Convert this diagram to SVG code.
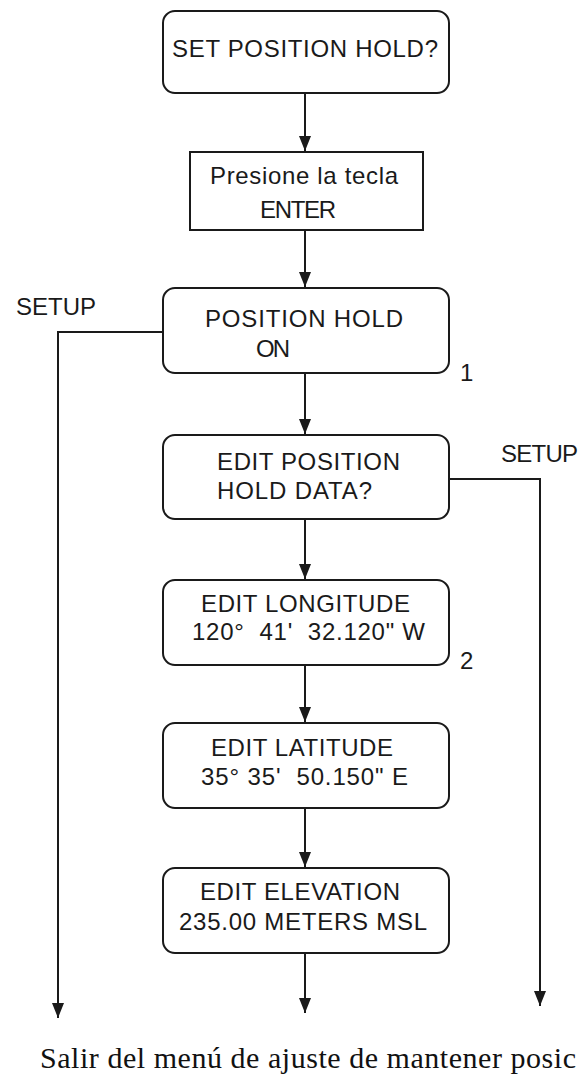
<svg xmlns="http://www.w3.org/2000/svg" width="582" height="1076" viewBox="0 0 582 1076">
<style>
.box{fill:#fff;stroke:#1a1a1a;stroke-width:2}
.t{font-family:"Liberation Sans",Arial,sans-serif;font-size:24px;fill:#1a1a1a;white-space:pre}
.c{fill:none;stroke:#1a1a1a;stroke-width:2}
.foot{font-family:"Liberation Serif","Times New Roman",serif;font-size:30px;fill:#111}
</style>
<defs>
<marker id="ah" viewBox="0 0 15 12" refX="15" refY="6" markerWidth="15" markerHeight="12" markerUnits="userSpaceOnUse" orient="auto">
<path d="M0,0 L15,6 L0,12 z" fill="#1a1a1a"/>
</marker>
</defs>
<rect width="582" height="1076" fill="#fff"/>
<g id="connectors">
<line class="c" x1="305" y1="93" x2="305" y2="151" marker-end="url(#ah)"/>
<line class="c" x1="305" y1="230" x2="305" y2="287" marker-end="url(#ah)"/>
<line class="c" x1="305" y1="373" x2="305" y2="434" marker-end="url(#ah)"/>
<line class="c" x1="305" y1="519" x2="305" y2="579" marker-end="url(#ah)"/>
<line class="c" x1="305" y1="665" x2="305" y2="722" marker-end="url(#ah)"/>
<line class="c" x1="305" y1="808" x2="305" y2="867" marker-end="url(#ah)"/>
<line class="c" x1="305" y1="953" x2="305" y2="1013" marker-end="url(#ah)"/>
<polyline class="c" points="163,332 58,332 58,1018" marker-end="url(#ah)"/>
<polyline class="c" points="449,479 540,479 540,1006" marker-end="url(#ah)"/>
<text class="t" x="16" y="315" textLength="80">SETUP</text>
<text class="t" x="501" y="462" textLength="77">SETUP</text>
</g>
<g id="n1">
<rect class="box" x="163" y="11" width="286" height="82" rx="12"/>
<text class="t" x="172" y="57" textLength="266">SET POSITION HOLD?</text>
</g>
<g id="n2">
<rect class="box" x="190" y="152" width="233" height="78"/>
<text class="t" x="210" y="184" textLength="188">Presione la tecla</text>
<text class="t" x="260" y="218" textLength="76">ENTER</text>
</g>
<g id="n3">
<rect class="box" x="163" y="288" width="286" height="85" rx="12"/>
<text class="t" x="205" y="327" textLength="198">POSITION HOLD</text>
<text class="t" x="256" y="357" textLength="34">ON</text>
<text class="t" x="460" y="381">1</text>
</g>
<g id="n4">
<rect class="box" x="163" y="435" width="286" height="84" rx="12"/>
<text class="t" x="217" y="470" textLength="183">EDIT POSITION</text>
<text class="t" x="217" y="499" textLength="155">HOLD DATA?</text>
</g>
<g id="n5">
<rect class="box" x="163" y="580" width="286" height="85" rx="12"/>
<text class="t" x="201" y="612" textLength="209">EDIT LONGITUDE</text>
<text class="t" x="192" y="640" textLength="233">120°  41'  32.120" W</text>
<text class="t" x="460" y="669">2</text>
</g>
<g id="n6">
<rect class="box" x="163" y="723" width="286" height="85" rx="12"/>
<text class="t" x="211" y="756" textLength="182">EDIT LATITUDE</text>
<text class="t" x="201" y="785" textLength="207">35° 35'  50.150" E</text>
</g>
<g id="n7">
<rect class="box" x="163" y="868" width="286" height="85" rx="12"/>
<text class="t" x="200" y="900" textLength="200">EDIT ELEVATION</text>
<text class="t" x="179" y="930" textLength="248">235.00 METERS MSL</text>
</g>
<g id="footer">
<text class="foot" x="40" y="1068" textLength="536">Salir del menú de ajuste de mantener posic</text>
</g>
</svg>
